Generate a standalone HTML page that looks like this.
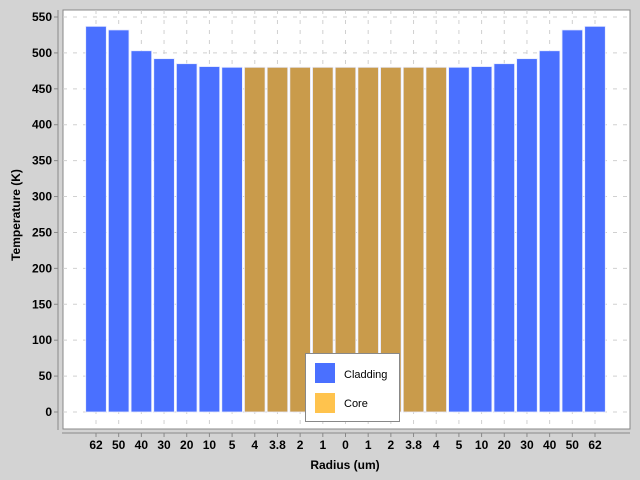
<!DOCTYPE html>
<html><head><meta charset="utf-8"><style>
html,body{margin:0;padding:0;overflow:hidden;background:#d3d3d3;font-family:"Liberation Sans",sans-serif;}
svg{display:block;}
svg text{font-family:"Liberation Sans",sans-serif;}
</style></head><body>
<svg width="640" height="480" id="c">
<rect x="0" y="0" width="640" height="480" fill="#d3d3d3"/>
<rect x="63" y="10" width="567" height="419" fill="#fff" stroke="#888"/>
<line x1="58" y1="10" x2="58" y2="430" stroke="#888"/>
<line x1="62" y1="433" x2="630" y2="433" stroke="#888"/>
<text x="20" y="215" transform="rotate(-90 20 215)" text-anchor="middle" font-size="12" font-weight="bold">Temperature (K)</text>
<text x="345" y="469" text-anchor="middle" font-size="12" font-weight="bold">Radius (um)</text>
<g id="g"></g>
<g>
<rect x="305.5" y="353.5" width="94" height="68" fill="#fff" stroke="#888"/>
<rect x="315" y="363" width="20" height="20" fill="#4a70ff"/>
<text x="344" y="378" font-size="11">Cladding</text>
<rect x="315" y="393" width="20" height="20" fill="#ffc34d"/>
<text x="344" y="407" font-size="11">Core</text>
</g>
</svg>
<script>
const categories=["62","50","40","30","20","10","5","4","3.8","2","1","0","1","2","3.8","4","5","10","20","30","40","50","62"];
const values=[537,532,503,492,485,481,480,480,480,480,480,480,480,480,480,480,480,481,485,492,503,532,537];
const series=["Cladding","Cladding","Cladding","Cladding","Cladding","Cladding","Cladding","Core","Core","Core","Core","Core","Core","Core","Core","Core","Cladding","Cladding","Cladding","Cladding","Cladding","Cladding","Cladding"];
const yTicks=[0,50,100,150,200,250,300,350,400,450,500,550];
const NS="http://www.w3.org/2000/svg";
const g=document.getElementById('g');
const y=v=>412-v*(395/550);
const x=i=>96+i*(499/22);
function mk(t,a){const e=document.createElementNS(NS,t);for(const k in a)e.setAttribute(k,a[k]);g.appendChild(e);return e;}
yTicks.forEach(v=>{
 const l=mk('line',{x1:63,x2:630,y1:y(v),y2:y(v),stroke:'#d0d0d0','stroke-dasharray':'4,6'});
 
 
 const tk=mk('line',{x1:54,x2:58,y1:y(v),y2:y(v),stroke:'#888'});
 
 
 const t=mk('text',{x:52,y:y(v)+4,'text-anchor':'end','font-size':12,'font-weight':'bold'});
 t.textContent=v;
 
 
});
categories.forEach((c,i)=>{
 const l=mk('line',{x1:x(i),x2:x(i),y1:10,y2:429,stroke:'#d0d0d0','stroke-dasharray':'4,6'});
 
 
});
categories.forEach((c,i)=>{
 const b=mk('rect',{x:x(i)-10.3,y:y(values[i]),width:20.6,height:y(0)-y(values[i]),fill:series[i]==='Core'?'#c99b4b':'#4a70ff',stroke:'#e8ecff','stroke-width':0.8});
 
 
 const tk=mk('line',{x1:x(i),x2:x(i),y1:433,y2:437,stroke:'#888'});
 
 
 const t=mk('text',{x:x(i),y:449,'text-anchor':'middle','font-size':12,'font-weight':'bold'});
 t.textContent=c;
 
 
});
</script>
</body></html>
